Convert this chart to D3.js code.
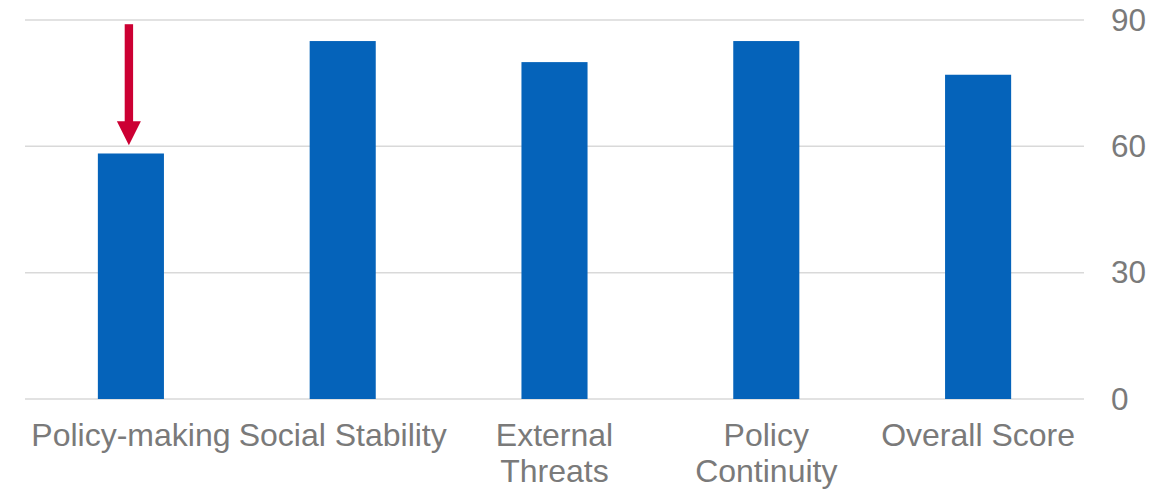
<!DOCTYPE html>
<html>
<head>
<meta charset="utf-8">
<script src="https://cdn.jsdelivr.net/npm/d3@7"></script>
<style>
  html, body { margin: 0; padding: 0; background: #fff; }
  svg { display: block; }
</style>
</head>
<body>
<svg id="chart" width="1170" height="489"></svg>
<script>
const categories = ["Policy-making", "Social Stability", "External Threats", "Policy Continuity", "Overall Score"];
const labelLines = [["Policy-making"], ["Social Stability"], ["External", "Threats"], ["Policy", "Continuity"], ["Overall Score"]];
const values = [58.3, 85, 80, 85, 77];
const yTicks = [0, 30, 60, 90];
const arrowCategory = "Policy-making";
const arrowFrom = 89;
const arrowTo = 60;

const W = 1170, H = 489;
const margin = { left: 25, right: 86, top: 20, bottom: 90 };
const svg = d3.select("#chart");
const font = "'Liberation Sans', Arial, sans-serif";
const textColor = "#7a7a7a";

const x = d3.scaleBand().domain(categories).range([margin.left, W - margin.right]).paddingInner(0.688).paddingOuter(0.344);
const y = d3.scaleLinear().domain([0, 90]).range([H - margin.bottom, margin.top]);

// gridlines
svg.append("g").selectAll("line").data(yTicks).join("line")
  .attr("x1", margin.left).attr("x2", W - margin.right)
  .attr("y1", d => y(d)).attr("y2", d => y(d))
  .attr("stroke", "#d9d9d9").attr("stroke-width", 1.5);

// y axis (right) labels via d3 axis
const yAxis = svg.append("g")
  .attr("transform", `translate(${W - margin.right},0)`)
  .call(d3.axisRight(y).tickValues(yTicks).tickSize(0).tickPadding(27));
yAxis.select(".domain").remove();
yAxis.selectAll("text").attr("font-family", font).attr("font-size", 31.5).attr("fill", textColor);

// bars
svg.append("g").selectAll("rect").data(values).join("rect")
  .attr("x", (d, i) => x(categories[i]))
  .attr("width", x.bandwidth())
  .attr("y", d => y(d))
  .attr("height", d => y(0) - y(d))
  .attr("fill", "#0563BA");

// x labels
const xl = svg.append("g");
categories.forEach((c, i) => {
  const t = xl.append("text")
    .attr("x", x(c) + x.bandwidth() / 2)
    .attr("y", y(0) + 47)
    .attr("text-anchor", "middle")
    .attr("font-family", font).attr("font-size", 32).attr("fill", textColor);
  labelLines[i].forEach((ln, j) => {
    t.append("tspan").attr("x", x(c) + x.bandwidth() / 2).attr("dy", j === 0 ? 0 : 36).text(ln);
  });
});

// arrow annotation
const ax = x(arrowCategory) + x.bandwidth() / 2 - 2;
const headLen = 24, headHalf = 12, shaftHalf = 4.2;
const yTop = y(arrowFrom), yTip = y(arrowTo) - 1;
svg.append("rect")
  .attr("x", ax - shaftHalf).attr("y", yTop)
  .attr("width", shaftHalf * 2).attr("height", yTip - headLen - yTop + 1)
  .attr("fill", "#CC0033");
svg.append("path")
  .attr("d", `M${ax - headHalf},${yTip - headLen} L${ax + headHalf},${yTip - headLen} L${ax},${yTip} Z`)
  .attr("fill", "#CC0033");
</script>
</body>
</html>
